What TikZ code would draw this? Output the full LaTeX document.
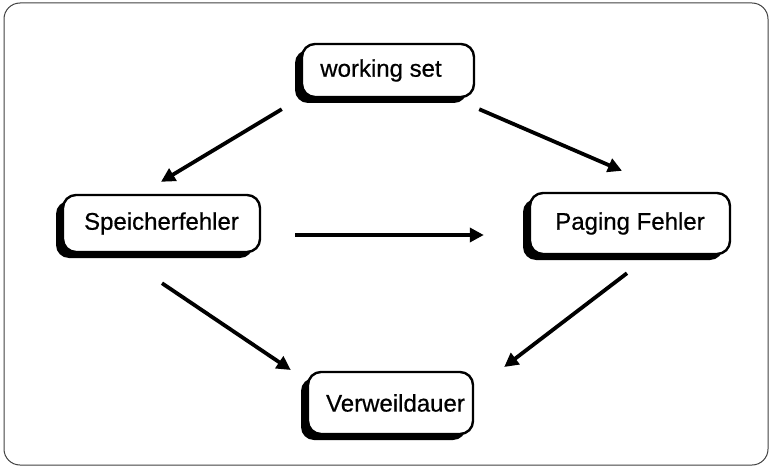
\documentclass[tikz,border=0pt]{standalone}
\usepackage{fontspec}
\setmainfont{Liberation Sans}
\newfontfamily\boxfont{Liberation Sans}[FakeBold=0.6]
\usetikzlibrary{shadows,calc,arrows.meta}
\tikzset{
  box/.style={draw, line width=2.4pt, rounded corners=13pt, fill=white,
    inner sep=0pt, font=\boxfont\fontsize{24}{28}\selectfont,
    general shadow={fill=black, shadow xshift=-7pt, shadow yshift=-6pt}},
  arr/.style={line width=3.8pt, -{Triangle[length=14pt,width=14pt]}},
  frame/.style={draw=black!75, line width=1pt, rounded corners=16pt}
}
\begin{document}
\begin{tikzpicture}[x=1pt,y=-1pt]
\useasboundingbox (0,0) rectangle (771,468);
\draw[frame] (4,3) rectangle (768,465);
\node[box, minimum width=172pt, minimum height=53pt] (ws) at (388,70.5) {working set\hspace*{14pt}};
\node[box, minimum width=197pt, minimum height=57pt] (sp) at (161.5,223.5) {Speicherfehler};
\node[box, minimum width=200pt, minimum height=61pt] (pf) at (630,223.5) {Paging Fehler};
\node[box, minimum width=165pt, minimum height=62pt] (vd) at (390.5,403) {\hspace*{10pt}Verweildauer};
\draw[arr] ($(ws.south west)+(-19,11)$) -- ($(sp.north)+(-0.5,-12)$);
\draw[arr] ($(ws.south east)+(4,11)$) -- ($(pf.north)+(-8,-21)$);
\draw[arr] ($(sp.east)+(34,11.5)$) -- ($(pf.west)+(-45,11.5)$);
\draw[arr] ($(sp.south)+(0.5,30)$) -- ($(vd.west)+(-16,-33)$);
\draw[arr] ($(pf.south)+(-3,18)$) -- ($(vd.east)+(30,-36)$);
\end{tikzpicture}
\end{document}
